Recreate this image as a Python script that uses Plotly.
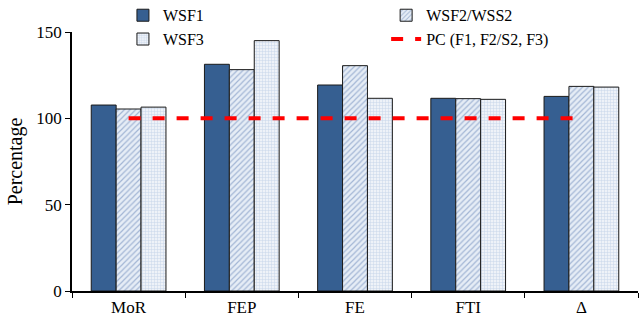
import plotly.graph_objects as go

categories = ["MoR", "FEP", "FE", "FTI", "Δ"]
wsf1 = [107.7, 131.3, 119.3, 111.6, 112.7]
wsf2 = [105.4, 128.2, 130.5, 111.4, 118.5]
wsf3 = [106.5, 145.0, 111.6, 111.0, 118.1]
pc = [100, 100, 100, 100, 100]

font_family = "Liberation Serif"

fig = go.Figure()
fig.add_trace(go.Bar(
    x=categories, y=wsf1, name="WSF1",
    marker=dict(color="#365f91", line=dict(color="#1a1a1a", width=1)),
    legend="legend",
))
fig.add_trace(go.Bar(
    x=categories, y=wsf2, name="WSF2/WSS2",
    marker=dict(color="#e6edf6", line=dict(color="#1a1a1a", width=1),
                pattern=dict(shape="/", fgcolor="#5f80b3", bgcolor="#e6edf6",
                             size=4, solidity=0.3)),
    legend="legend2",
))
fig.add_trace(go.Bar(
    x=categories, y=wsf3, name="WSF3",
    marker=dict(color="#e6edf6", line=dict(color="#1a1a1a", width=1),
                pattern=dict(shape="+", fgcolor="#9fb6d8", bgcolor="#eef2f8",
                             size=3, solidity=0.3)),
    legend="legend",
))
fig.add_trace(go.Scatter(
    x=categories, y=pc, name="PC (F1, F2/S2, F3)", mode="lines",
    line=dict(color="#ff0000", width=4, dash="dash"),
    legend="legend2",
))

fig.update_layout(
    width=641, height=321,
    margin=dict(l=72, r=3, t=32, b=30, autoexpand=False),
    paper_bgcolor="white", plot_bgcolor="white",
    font=dict(family=font_family, size=16, color="black"),
    barmode="group", bargap=0.34, bargroupgap=0,
    showlegend=True,
    legend=dict(x=0.09, y=1.13, xanchor="left", yanchor="top",
                bgcolor="rgba(0,0,0,0)", tracegroupgap=0,
                font=dict(family=font_family, size=16)),
    legend2=dict(x=0.555, y=1.13, xanchor="left", yanchor="top",
                 bgcolor="rgba(0,0,0,0)", tracegroupgap=0,
                 font=dict(family=font_family, size=16)),
    xaxis=dict(showline=True, linecolor="black", linewidth=1.5,
               ticks="outside", tickson="boundaries", ticklen=5,
               tickcolor="black", showgrid=False, automargin=False,
               tickfont=dict(family=font_family, size=17)),
    yaxis=dict(range=[0, 150], tickvals=[0, 50, 100, 150],
               showline=True, linecolor="black", linewidth=1.5,
               ticks="outside", ticklen=5, tickcolor="black",
               showgrid=False, zeroline=False, automargin=False,
               title=dict(text="Percentage", standoff=8,
                          font=dict(family=font_family, size=20)),
               tickfont=dict(family=font_family, size=17)),
)

fig.write_html("out.html", config={"displayModeBar": False},
               post_script="document.body.style.margin='0';document.body.style.padding='0';")
